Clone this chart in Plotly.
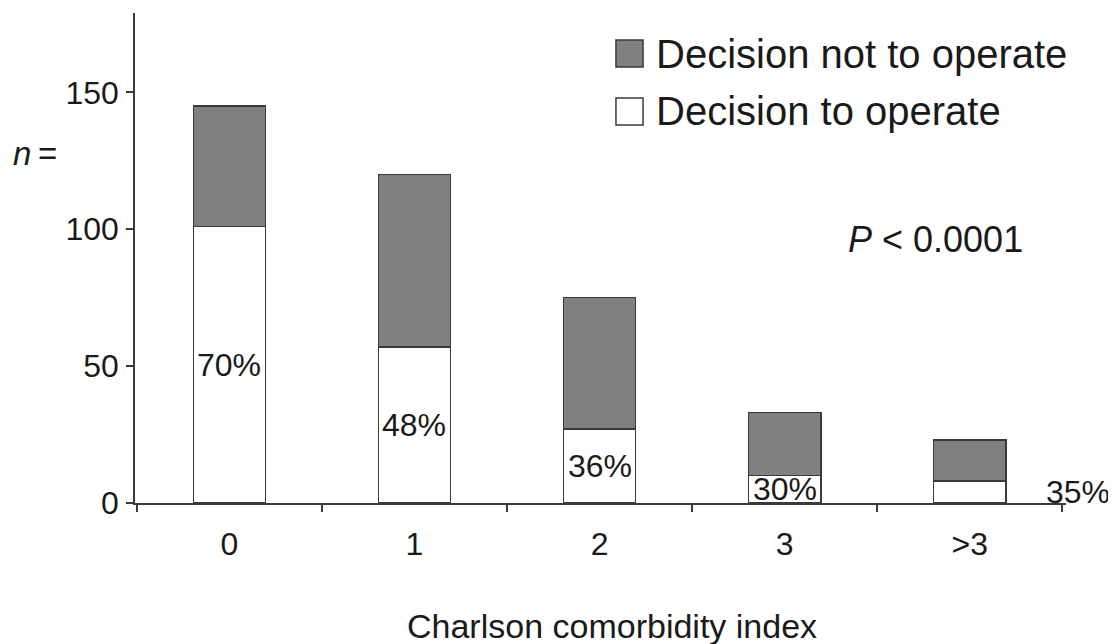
import plotly.graph_objects as go

categories = ["0", "1", "2", "3", ">3"]
operate = [101, 57, 27, 10, 8]
not_operate = [44, 63, 48, 23, 15]
pct_labels = ["70%", "48%", "36%", "30%", "35%"]
y_ticks = [0, 50, 100, 150]

FONT = "Liberation Sans, Arial, sans-serif"
TXT = "#1a1a1a"
EDGE = "#3a3a3a"
GRAY = "#808080"

fig = go.Figure()
fig.add_trace(go.Bar(x=categories, y=operate, name="Decision to operate",
                     marker=dict(color="white", line=dict(color=EDGE, width=1.5)),
                     width=0.39, showlegend=False, hoverinfo="y"))
fig.add_trace(go.Bar(x=categories, y=not_operate, name="Decision not to operate",
                     marker=dict(color=GRAY, line=dict(color=EDGE, width=1.5)),
                     width=0.39, showlegend=False, hoverinfo="y"))

annotations = []
for i, (cat, op, lab) in enumerate(zip(categories, operate, pct_labels)):
    last = i == len(categories) - 1
    annotations.append(dict(x=i, y=op / 2, xref="x", yref="y", text=lab,
                            showarrow=False, xshift=108 if last else 0,
                            font=dict(family=FONT, size=32, color=TXT)))

# legend drawn manually (large square keys)
shapes = [
    dict(type="rect", xref="paper", yref="paper", x0=0.5166, x1=0.5457, y0=0.8898, y1=0.9449,
         fillcolor=GRAY, line=dict(color=EDGE, width=1.5)),
    dict(type="rect", xref="paper", yref="paper", x0=0.5166, x1=0.5457, y0=0.7714, y1=0.8265,
         fillcolor="white", line=dict(color=EDGE, width=1.5)),
]
annotations += [
    dict(x=0.5580, y=0.917, xref="paper", yref="paper", xanchor="left", yanchor="middle",
         text="Decision not to operate", showarrow=False,
         font=dict(family=FONT, size=40, color=TXT)),
    dict(x=0.5580, y=0.799, xref="paper", yref="paper", xanchor="left", yanchor="middle",
         text="Decision to operate", showarrow=False,
         font=dict(family=FONT, size=40, color=TXT)),
    dict(x=0.860, y=0.537, xref="paper", yref="paper", xanchor="center", yanchor="middle",
         text="<i>P</i> < 0.0001", showarrow=False,
         font=dict(family=FONT, size=36, color=TXT)),
    dict(x=-0.107, y=0.714, xref="paper", yref="paper", xanchor="center", yanchor="middle",
         text="<i>n</i>\u2009=", showarrow=False,
         font=dict(family=FONT, size=33, color=TXT)),
    dict(x=0.512, y=-0.251, xref="paper", yref="paper", xanchor="center", yanchor="middle",
         text="Charlson comorbidity index", showarrow=False,
         font=dict(family=FONT, size=34, color=TXT)),
]

fig.update_layout(
    barmode="stack",
    width=1116, height=644,
    margin=dict(l=127, r=58, t=5, b=149, autoexpand=False),
    plot_bgcolor="white", paper_bgcolor="white",
    font=dict(family=FONT, size=32, color=TXT),
    annotations=annotations, shapes=shapes,
    showlegend=False,
)
fig.update_xaxes(
    range=[-0.51, 4.52], showline=True, linecolor=EDGE, linewidth=1.5,
    ticks="outside", tickson="boundaries", ticklen=7, tickcolor=EDGE, tickwidth=1.5,
    showgrid=False, zeroline=False, ticklabelstandoff=12,
    tickfont=dict(family=FONT, size=32, color=TXT),
)
fig.update_yaxes(
    range=[0, 179], tickvals=y_ticks, showline=True, linecolor=EDGE, linewidth=1.5,
    ticks="outside", ticklen=7, tickcolor=EDGE, tickwidth=1.5,
    showgrid=False, zeroline=False, ticklabelstandoff=1,
    tickfont=dict(family=FONT, size=32, color=TXT),
)

fig.write_html("out.html")
